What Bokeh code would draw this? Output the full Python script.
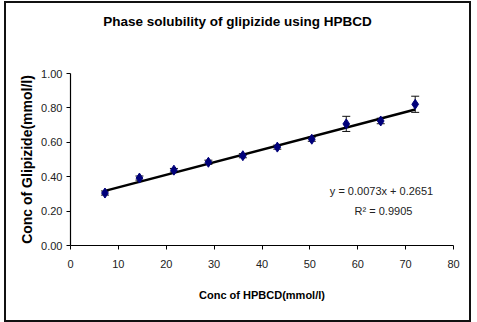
from bokeh.plotting import figure
from bokeh.layouts import column
from bokeh.models import (ColumnDataSource, Whisker, TeeHead, Label, Div,
                          FixedTicker, NumeralTickFormatter)
from bokeh.embed import file_html
from bokeh.resources import INLINE

# HPBCD concentration (mmol/l) and glipizide solubility (mmol/l)
hpbcd = [7.2, 14.4, 21.6, 28.8, 36.0, 43.2, 50.4, 57.6, 64.8, 72.0]
glipizide = [0.305, 0.392, 0.438, 0.484, 0.522, 0.572, 0.618, 0.707, 0.724, 0.821]
sd = [0.012, 0.012, 0.010, 0.012, 0.012, 0.012, 0.012, 0.044, 0.016, 0.047]

# linear fit reported on the chart
slope = 0.0073
intercept = 0.2651
r_squared = 0.9905

x_ticks = [0, 10, 20, 30, 40, 50, 60, 70, 80]
y_ticks = [0.0, 0.2, 0.4, 0.6, 0.8, 1.0]

NARROW = "Liberation Sans Narrow, Arial Narrow, Liberation Sans, sans-serif"
BOLD = "Liberation Sans, Arial, sans-serif"

title = Div(text="Phase solubility of glipizide using HPBCD", width=467, height=40,
            margin=(0, 0, 0, 0),
            styles={"text-align": "center", "font-family": NARROW,
                    "font-weight": "bold", "font-size": "13.5px",
                    "line-height": "42px", "color": "black", "width": "467px"})

p = figure(width=467, height=281, x_range=(0, 80), y_range=(0, 1.0),
           output_backend="svg", toolbar_location=None,
           min_border_left=66, min_border_right=18,
           min_border_top=32, min_border_bottom=77)
p.margin = (0, 0, 0, 0)
p.outline_line_color = None
p.border_fill_color = None
p.background_fill_color = None
p.xgrid.visible = False
p.ygrid.visible = False

for ax in (p.xaxis[0], p.yaxis[0]):
    ax.axis_line_color = "black"
    ax.axis_line_width = 1.2
    ax.major_tick_line_color = "black"
    ax.major_tick_out = 4
    ax.major_tick_in = 0
    ax.minor_tick_line_color = None
    ax.major_label_text_font = NARROW
    ax.major_label_text_font_size = "11px"
    ax.major_label_text_color = "#222222"
    ax.axis_label_text_font_style = "bold"
    ax.axis_label_text_color = "black"

p.xaxis.ticker = FixedTicker(ticks=x_ticks)
p.yaxis.ticker = FixedTicker(ticks=y_ticks)
p.yaxis.formatter = NumeralTickFormatter(format="0.00")
p.xaxis.major_label_standoff = 10
p.yaxis.major_label_standoff = 4
p.xaxis.axis_label = "Conc of HPBCD(mmol/l)"
p.yaxis.axis_label = "Conc of Glipizide(mmol/l)"
p.xaxis.axis_label_text_font = NARROW
p.xaxis.axis_label_text_font_size = "11px"
p.xaxis.axis_label_standoff = 18
p.yaxis.axis_label_text_font = BOLD
p.yaxis.axis_label_text_font_size = "14px"
p.yaxis.axis_label_standoff = 3

src = ColumnDataSource(dict(
    x=hpbcd, y=glipizide,
    lo=[v - e for v, e in zip(glipizide, sd)],
    hi=[v + e for v, e in zip(glipizide, sd)],
))

# trend line over the measured range
fit_x = [hpbcd[0], hpbcd[-1]]
fit_y = [slope * v + intercept for v in fit_x]
p.line(fit_x, fit_y, line_color="black", line_width=2.5)

p.add_layout(Whisker(source=src, base="x", lower="lo", upper="hi",
                     line_color="#111111", line_width=1,
                     upper_head=TeeHead(size=8, line_color="#111111", line_width=1),
                     lower_head=TeeHead(size=8, line_color="#111111", line_width=1)))

p.scatter("x", "y", source=src, marker="diamond", size=10,
          fill_color="#00007a", line_color="#00007a")

# fit equation, positioned relative to the plot frame
p.add_layout(Label(x=311, y=55, x_units="screen", y_units="screen",
                   text=f"y = {slope}x + {intercept}", text_align="center",
                   text_baseline="middle", text_font=NARROW, text_font_size="11px",
                   text_color="#222222"))
p.add_layout(Label(x=313, y=35, x_units="screen", y_units="screen",
                   text=f"R² = {r_squared}", text_align="center",
                   text_baseline="middle", text_font=NARROW, text_font_size="11px",
                   text_color="#222222"))

chart = column(title, p, spacing=0)
chart.margin = (1, 0, 0, 4)
# frame drawn around the whole chart
chart.styles = {"outline": "2px solid #111111", "outline-offset": "-2px",
                "background-color": "white"}

open("out.html", "w").write(file_html(chart, INLINE))
